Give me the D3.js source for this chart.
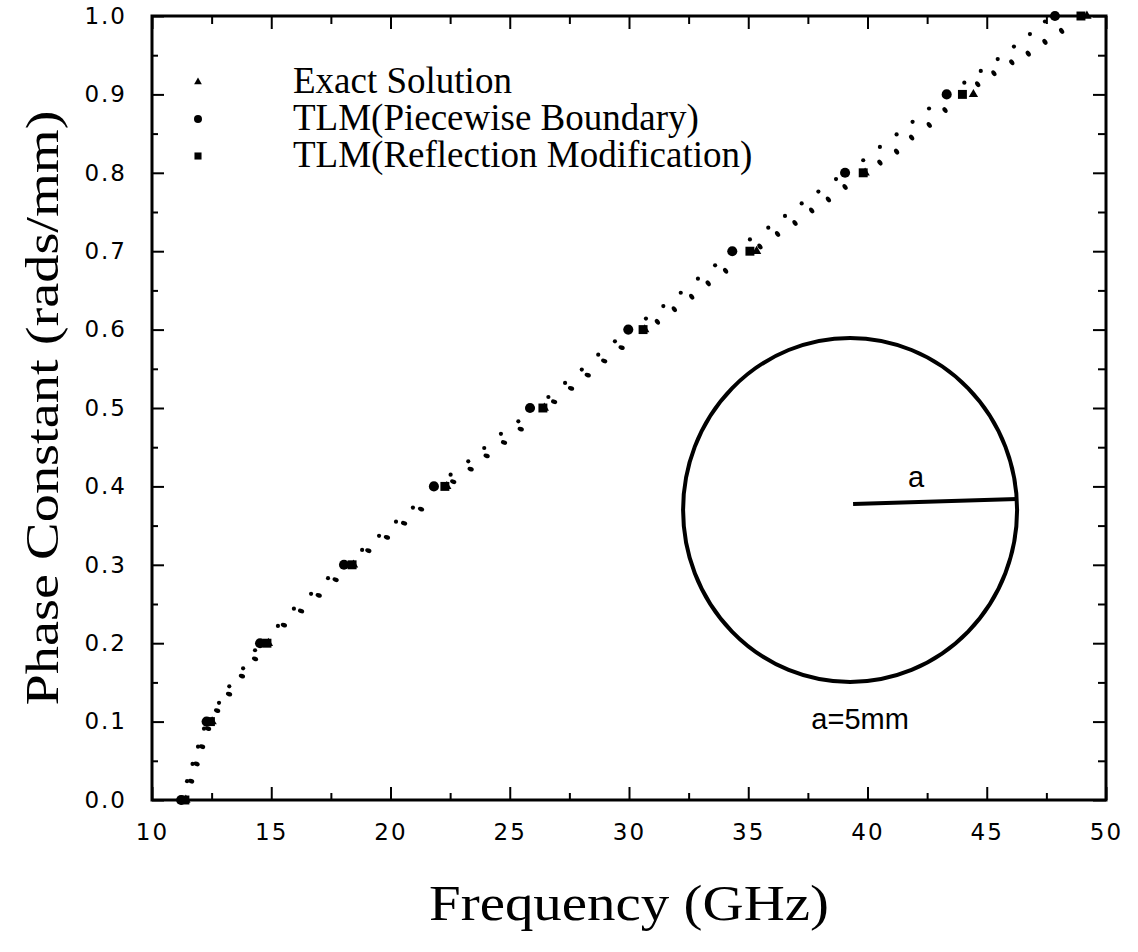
<!DOCTYPE html>
<html>
<head>
<meta charset="utf-8">
<script src="https://cdn.jsdelivr.net/npm/d3@7"></script>
<style>
  html, body { margin: 0; padding: 0; background: #fff; }
  svg { display: block; }
</style>
</head>
<body>
<svg id="chart" width="1138" height="952"></svg>
<script>
// ---------- data ----------
// dotted curve A (upper/left dots) : frequency (GHz) and phase constant (rad/mm)
const curveA_f = [11.47, 11.70, 11.93, 12.18, 12.81, 13.24, 13.82, 14.32, 15.28, 15.95, 16.67, 17.38,
  18.81, 19.52, 20.23, 20.94, 22.52, 23.26, 23.93, 24.63, 25.36, 26.62, 27.32, 28.02, 28.71, 29.41,
  30.71, 31.44, 32.17, 32.89, 33.61, 35.07, 35.84, 36.54, 37.24, 37.94, 38.68, 39.82, 40.52, 41.22,
  41.89, 42.58, 44.06, 44.75, 45.46, 46.14, 46.81, 47.44];
const curveA_b = [0.024, 0.046, 0.068, 0.091, 0.124, 0.145, 0.168, 0.191, 0.222, 0.244, 0.263, 0.283,
  0.319, 0.337, 0.355, 0.373, 0.415, 0.432, 0.449, 0.467, 0.483, 0.514, 0.532, 0.549, 0.568, 0.585,
  0.614, 0.630, 0.647, 0.665, 0.682, 0.715, 0.730, 0.745, 0.761, 0.776, 0.792, 0.816, 0.833, 0.849,
  0.865, 0.882, 0.915, 0.930, 0.945, 0.961, 0.977, 0.993];
// dotted curve B (lower/right dots)
const curveB_f = [11.64, 11.87, 12.10, 12.35, 12.73, 13.23, 13.77, 14.32, 15.53, 16.25, 16.99, 17.70,
  19.07, 19.85, 20.57, 21.28, 22.63, 23.36, 24.03, 24.76, 25.46, 26.86, 27.57, 28.27, 28.96, 29.69,
  31.19, 31.90, 32.63, 33.32, 34.05, 35.49, 36.23, 36.96, 37.66, 38.36, 39.06, 40.52, 41.22, 41.85,
  42.59, 43.25, 44.62, 45.30, 46.05, 46.74, 47.44, 48.14];
const curveB_b = [0.024, 0.046, 0.068, 0.091, 0.114, 0.135, 0.158, 0.180, 0.223, 0.241, 0.261, 0.281,
  0.318, 0.335, 0.353, 0.371, 0.406, 0.422, 0.439, 0.456, 0.473, 0.508, 0.525, 0.542, 0.560, 0.577,
  0.610, 0.626, 0.642, 0.659, 0.675, 0.706, 0.722, 0.736, 0.752, 0.766, 0.782, 0.813, 0.827, 0.845,
  0.861, 0.880, 0.913, 0.927, 0.941, 0.952, 0.967, 0.981];

// markers at beta = 0.0 ... 1.0
const markerBeta   = [0.0, 0.1, 0.2, 0.3, 0.4, 0.5, 0.6, 0.7, 0.8, 0.9, 1.0];
const exactF       = [11.42, 12.52, 14.88, 18.45, 22.36, 26.45, 30.66, 35.35, 39.90, 44.44, 49.20];
const piecewiseF   = [11.22, 12.29, 14.53, 18.05, 21.82, 25.85, 29.97, 34.33, 39.06, 43.32, 47.86];
const reflectionF  = [11.38, 12.45, 14.82, 18.39, 22.28, 26.39, 30.59, 35.07, 39.82, 43.98, 48.95];

const legendLabels = ["Exact Solution", "TLM(Piecewise Boundary)", "TLM(Reflection Modification)"];
const xMajorTicks = [10, 15, 20, 25, 30, 35, 40, 45, 50];
const xMinorTicks = [12.5, 17.5, 22.5, 27.5, 32.5, 37.5, 42.5, 47.5];
const yMajorTicks = [0.0, 0.1, 0.2, 0.3, 0.4, 0.5, 0.6, 0.7, 0.8, 0.9, 1.0];
const yMinorTicks = [0.05, 0.15, 0.25, 0.35, 0.45, 0.55, 0.65, 0.75, 0.85, 0.95];
const xTitle = "Frequency (GHz)";
const yTitle = "Phase Constant (rads/mm)";
// inset (waveguide cross-section) in data units
const insetCenter = [39.27, 0.370];
const insetText = "a=5mm";

// ---------- drawing ----------
const svg = d3.select("#chart");
svg.append("rect").attr("width", 1138).attr("height", 952).attr("fill", "#fff");

const x = d3.scaleLinear().domain([10, 50]).range([152, 1106]);
const y = d3.scaleLinear().domain([0, 1]).range([800, 16]);

const tickFont = "'DejaVu Sans', sans-serif";
const serif = "'Liberation Serif', 'Times New Roman', serif";

function styleAxis(g) {
  g.select(".domain").remove();
  g.selectAll(".tick line").attr("stroke", "#000").attr("stroke-width", 2);
  g.selectAll(".tick text").attr("fill", "#000")
    .style("font-family", tickFont).style("font-size", "23px").style("letter-spacing", "2px");
}

// bottom
svg.append("g").attr("transform", `translate(0,${y(0)})`)
  .call(d3.axisBottom(x).tickValues(xMajorTicks).tickSize(-13).tickPadding(24).tickFormat(d3.format("d")))
  .call(styleAxis);
svg.append("g").attr("transform", `translate(0,${y(0)})`)
  .call(d3.axisBottom(x).tickValues(xMinorTicks).tickSize(-7).tickFormat(""))
  .call(styleAxis);
// top
svg.append("g").attr("transform", `translate(0,${y(1)})`)
  .call(d3.axisTop(x).tickValues(xMajorTicks).tickSize(-13).tickFormat(""))
  .call(styleAxis);
svg.append("g").attr("transform", `translate(0,${y(1)})`)
  .call(d3.axisTop(x).tickValues(xMinorTicks).tickSize(-8).tickFormat(""))
  .call(styleAxis);
// left
svg.append("g").attr("transform", `translate(${x(10)},0)`)
  .call(d3.axisLeft(y).tickValues(yMajorTicks).tickSize(-12).tickPadding(25).tickFormat(d3.format(".1f")))
  .call(styleAxis);
svg.append("g").attr("transform", `translate(${x(10)},0)`)
  .call(d3.axisLeft(y).tickValues(yMinorTicks).tickSize(-6).tickFormat(""))
  .call(styleAxis);
// right
svg.append("g").attr("transform", `translate(${x(50)},0)`)
  .call(d3.axisRight(y).tickValues(yMajorTicks).tickSize(-13).tickFormat(""))
  .call(styleAxis);
svg.append("g").attr("transform", `translate(${x(50)},0)`)
  .call(d3.axisRight(y).tickValues(yMinorTicks).tickSize(-8).tickFormat(""))
  .call(styleAxis);

// frame
svg.append("rect")
  .attr("x", x(10)).attr("y", y(1))
  .attr("width", x(50) - x(10)).attr("height", y(0) - y(1))
  .attr("fill", "none").attr("stroke", "#000").attr("stroke-width", 3);

// axis titles
svg.append("text")
  .attr("x", (x(10) + x(50)) / 2).attr("y", 920)
  .attr("text-anchor", "middle")
  .attr("textLength", 400).attr("lengthAdjust", "spacingAndGlyphs")
  .style("font-family", serif).style("font-size", "50px")
  .text(xTitle);
svg.append("text")
  .attr("transform", "translate(58,408) rotate(-90)")
  .attr("text-anchor", "middle")
  .attr("textLength", 595).attr("lengthAdjust", "spacingAndGlyphs")
  .style("font-family", serif).style("font-size", "46px")
  .text(yTitle);

// dotted curves
const plot = svg.append("g");
const dotsA = curveA_f.map((f, i) => ({ f, b: curveA_b[i] }));
const dotsB = curveB_f.map((f, i) => ({ f, b: curveB_b[i] }));
plot.selectAll("circle.dotA").data(dotsA).join("circle")
  .attr("class", "dotA")
  .attr("cx", d => x(d.f)).attr("cy", d => y(d.b)).attr("r", 2.1).attr("fill", "#000");
plot.selectAll("ellipse.dotB").data(dotsB).join("ellipse")
  .attr("class", "dotB")
  .attr("transform", d => `translate(${x(d.f)},${y(d.b)}) rotate(${d.b > 0.6 ? 55 : 20})`)
  .attr("rx", 3.2).attr("ry", 2.2).attr("fill", "#000");

// markers
const tri = d3.symbol().type(d3.symbolTriangle).size(38);
const sq = d3.symbol().type(d3.symbolSquare).size(80);
const circ = d3.symbol().type(d3.symbolCircle).size(80);
plot.selectAll("path.exact").data(markerBeta).join("path")
  .attr("class", "exact").attr("d", tri)
  .attr("transform", (b, i) => `translate(${x(exactF[i])},${y(b)})`).attr("fill", "#000");
plot.selectAll("path.refl").data(markerBeta).join("path")
  .attr("class", "refl").attr("d", sq)
  .attr("transform", (b, i) => `translate(${x(reflectionF[i])},${y(b)})`).attr("fill", "#000");
plot.selectAll("path.piece").data(markerBeta).join("path")
  .attr("class", "piece").attr("d", circ)
  .attr("transform", (b, i) => `translate(${x(piecewiseF[i])},${y(b)})`).attr("fill", "#000");

// legend
const legendSymbols = [
  d3.symbol().type(d3.symbolTriangle).size(26),
  d3.symbol().type(d3.symbolCircle).size(50),
  d3.symbol().type(d3.symbolSquare).size(50)
];
const legend = svg.append("g");
legendLabels.forEach((lab, i) => {
  const cy = 82 + i * 37;
  legend.append("path").attr("d", legendSymbols[i]())
    .attr("transform", `translate(198,${cy})`).attr("fill", "#000");
  legend.append("text").attr("x", 293).attr("y", cy + 11)
    .style("font-family", serif).style("font-size", "37px")
    .text(lab);
});

// inset: circular waveguide cross-section
const cx = x(insetCenter[0]), cy = y(insetCenter[1]);
svg.append("ellipse").attr("cx", cx).attr("cy", cy).attr("rx", 167).attr("ry", 172)
  .attr("fill", "none").attr("stroke", "#000").attr("stroke-width", 4);
svg.append("line").attr("x1", cx + 3).attr("y1", cy - 6).attr("x2", cx + 167).attr("y2", cy - 11)
  .attr("stroke", "#000").attr("stroke-width", 4);
svg.append("text").attr("x", cx + 66).attr("y", cy - 23).attr("text-anchor", "middle")
  .style("font-family", "'Liberation Sans', Arial, sans-serif").style("font-size", "29px")
  .text("a");
svg.append("text").attr("x", cx + 10).attr("y", cy + 219).attr("text-anchor", "middle")
  .style("font-family", "'Liberation Sans', Arial, sans-serif").style("font-size", "29px")
  .text(insetText);
</script>
</body>
</html>
